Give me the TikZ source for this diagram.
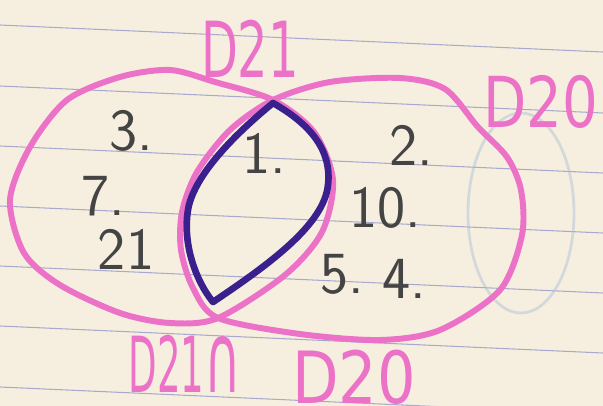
\documentclass[tikz,border=0pt]{standalone}
\usepackage{fontspec}
\usepackage{graphicx}
\newfontfamily\markerfont{DejaVu Sans}
\definecolor{paper}{RGB}{246,239,224}
\definecolor{ruling}{RGB}{168,170,205}
\definecolor{marker}{RGB}{236,114,200}
\definecolor{ink}{RGB}{58,32,140}
\definecolor{pencil}{RGB}{68,68,68}
\definecolor{ghost}{RGB}{170,192,215}
\newcommand{\squeeze}[2]{\scalebox{#1}[1]{#2}}

\begin{document}
\begin{tikzpicture}[x=0.02cm, y=-0.02cm,
    pinkline/.style={draw=marker, line width=3.4pt, line join=round},
    lensline/.style={draw=ink, line width=3.8pt, line join=round},
    num/.style={text=pencil, font=\sffamily\fontsize{34}{34}\selectfont, inner sep=0pt},
    lbl/.style={text=marker, font=\markerfont\fontsize{44}{44}\selectfont, inner sep=0pt}]
    % Paper with ruled lines
    \fill[paper] (0,0) rectangle (603,406);
    \useasboundingbox (0,0) rectangle (603,406);
    \foreach \y in {-35,25,86,146,206,266,326,387}
        \draw[ruling, line width=0.6pt] (0,\y) -- (603,\y+27);
    % Faint oval showing through the page
    \draw[ghost, line width=1.6pt, opacity=0.45] (521,213) ellipse (53 and 100);

    % Set D21
    \draw[pinkline] plot[smooth cycle] coordinates {(120,77) (170,70) (215,82) (273,100)
        (314,132) (333,180) (322,232) (285,275) (218,318) (170,323) (120,313)
        (60,285) (24,253) (10,200) (30,147) (67,100)};
    % Set D20
    \draw[pinkline] plot[smooth cycle] coordinates {(273,100) (330,82) (400,78) (445,89)
        (478,127) (507,157) (521,190) (522,235) (500,290) (440,330) (380,340)
        (300,334) (218,318) (193,288) (181,250) (182,212) (197,172) (230,130)};

    % Intersection
    \draw[lensline] (273,103) .. controls (310,124) and (332,150) .. (328,185)
        .. controls (324,225) and (268,265) .. (213,302)
        .. controls (195,280) and (181,240) .. (189,205)
        .. controls (198,170) and (240,130) .. (273,103) -- cycle;

    % Elements
    \node[num] (n3) at (131,131) {3.};
    \node[num] (n7) at (103,196) {7.};
    \node[num] (n21) at (126,249) {21};
    \node[num] (n1) at (264,153) {1.};
    \node[num] (n2) at (411,145) {2.};
    \node[num] (n10) at (385,208) {10.};
    \node[num] (n5) at (342,274) {5.};
    \node[num] (n4) at (404,279) {4.};

    % Set names
    \node[lbl] (lD21) at (250,49) {\squeeze{0.62}{D21}};
    \node[lbl, font=\markerfont\fontsize{40}{40}\selectfont] (lD20) at (541,102) {\squeeze{0.8}{D20}};
    \node[lbl, font=\markerfont\fontsize{44}{44}\selectfont] (lcap) at (185,392)
        {\squeeze{0.48}{\smash{D21}}\scalebox{0.65}[1.25]{\smash{∩}}};
    \node[lbl, font=\markerfont\fontsize{41}{41}\selectfont] (lD20b) at (354,403) {\squeeze{0.84}{\smash{D20}}};
\end{tikzpicture}
\end{document}
